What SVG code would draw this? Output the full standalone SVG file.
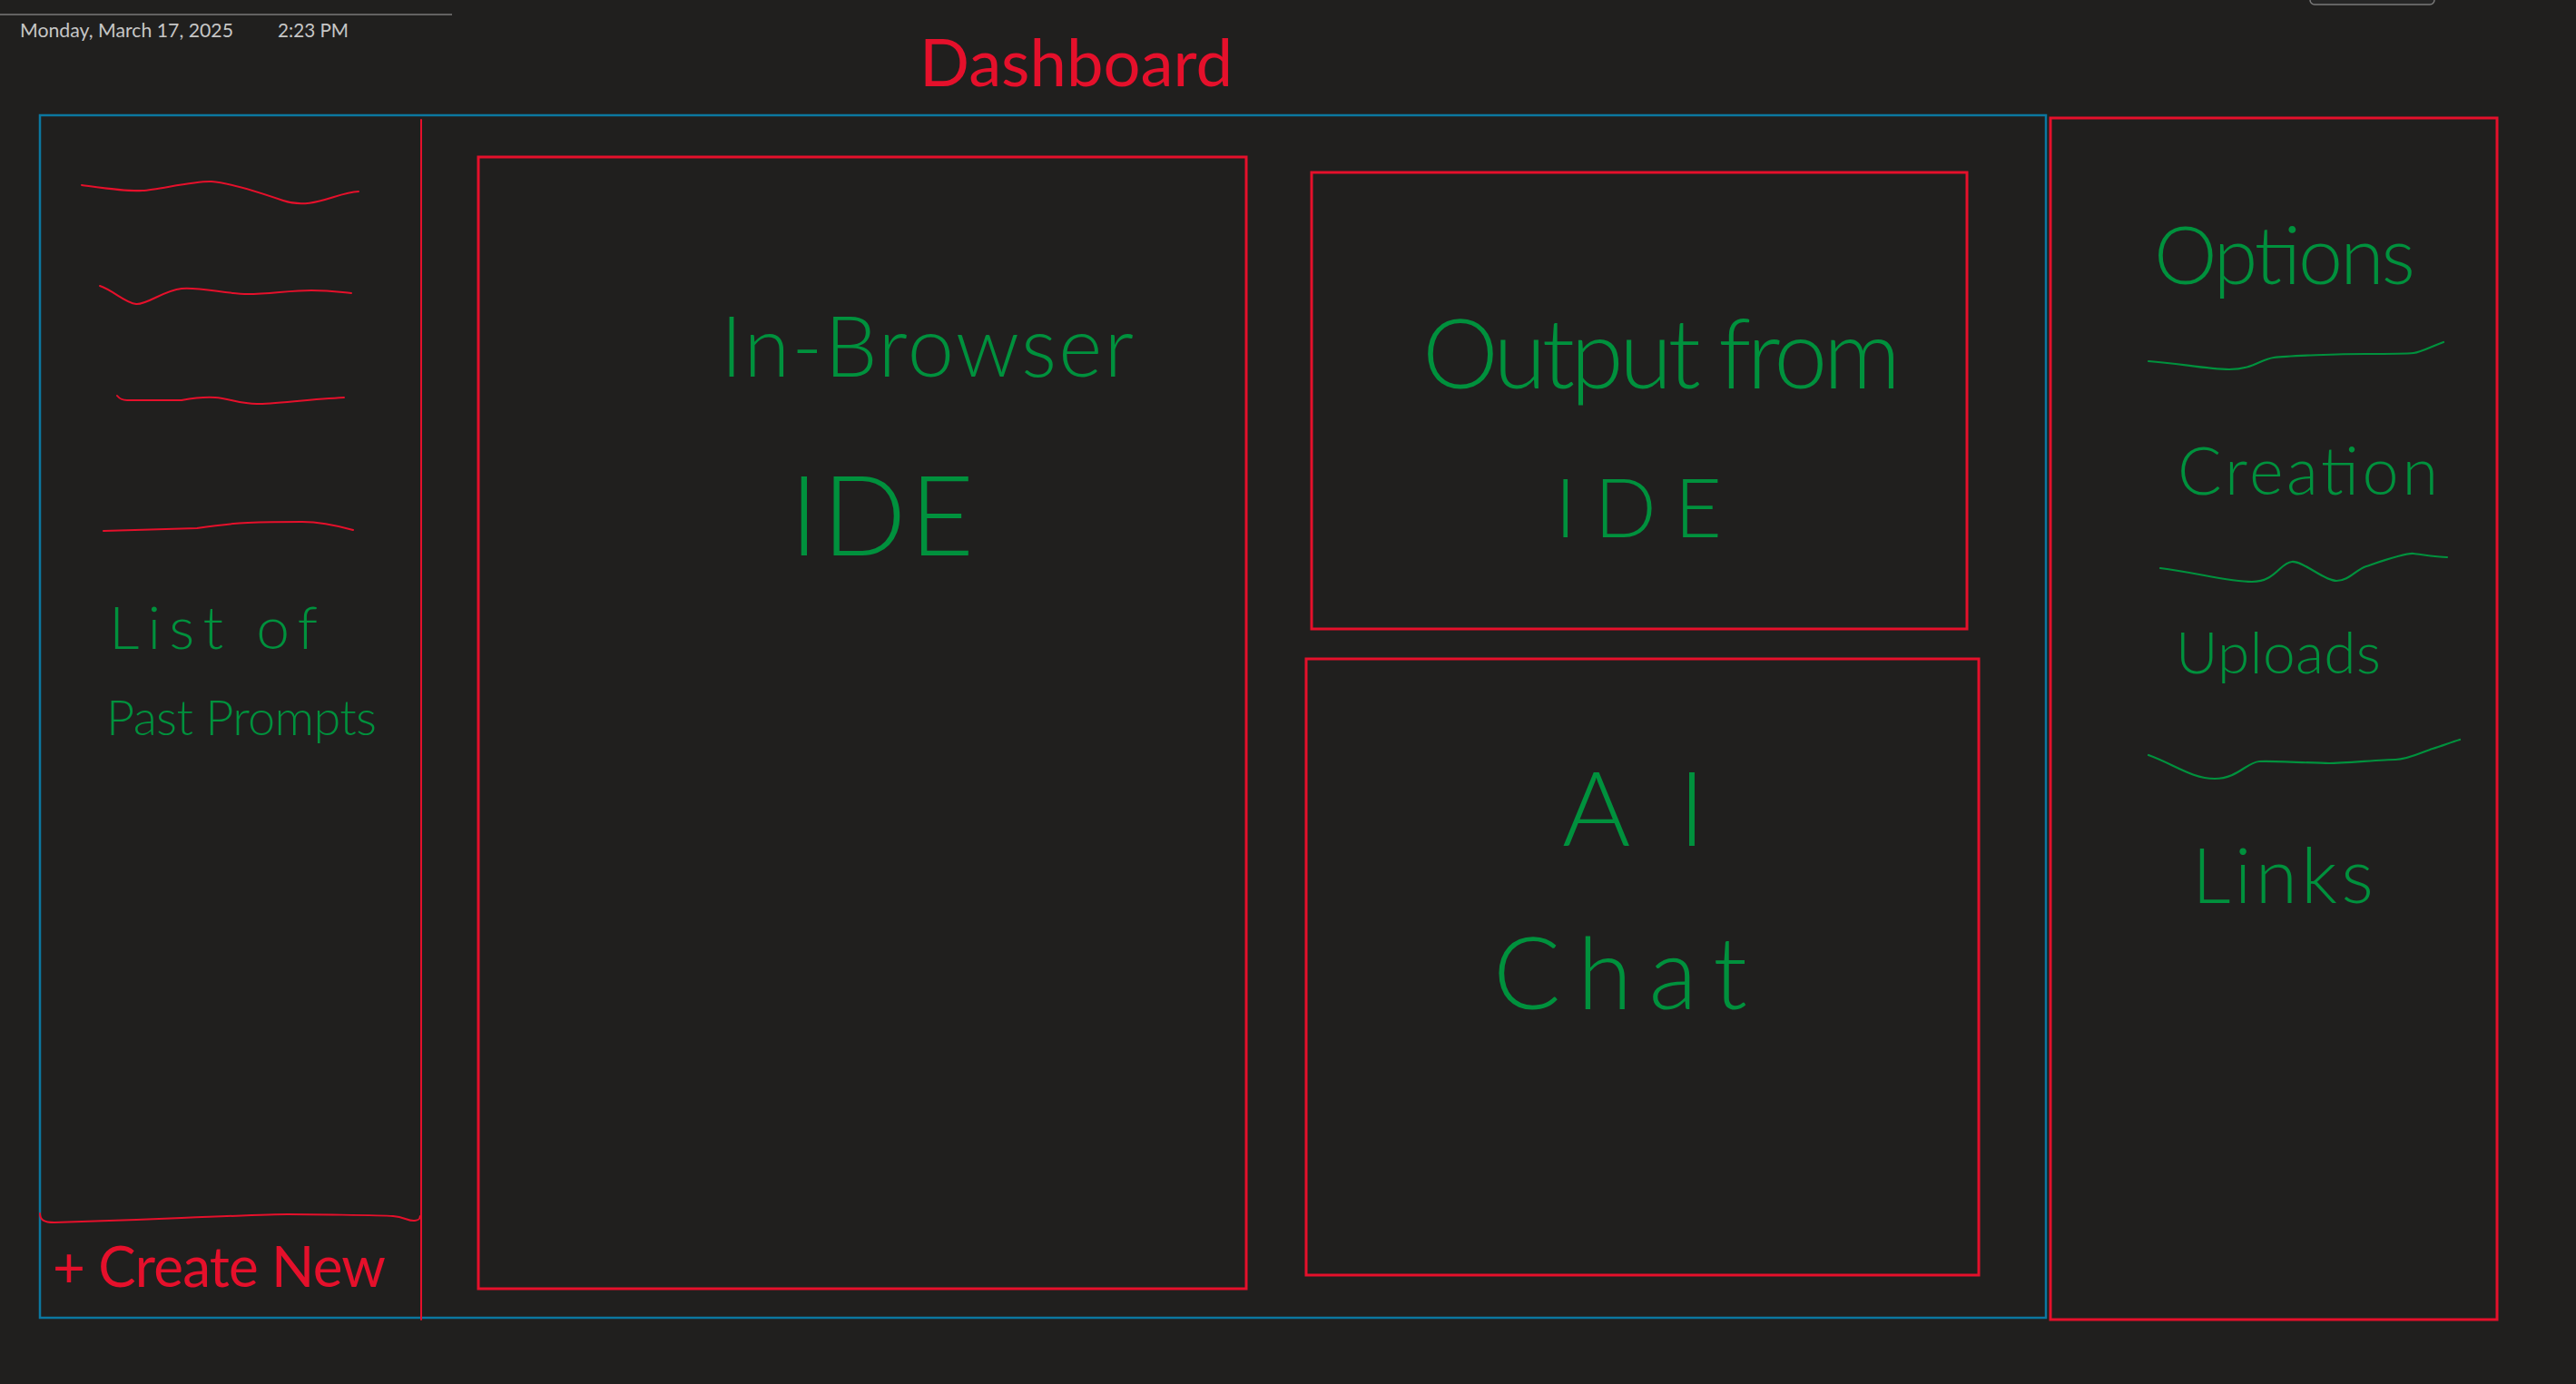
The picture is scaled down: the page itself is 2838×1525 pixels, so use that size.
<svg xmlns="http://www.w3.org/2000/svg" width="2838" height="1525" viewBox="0 0 2838 1525">
<style>
.bg{fill:#201f1e}
.blue{fill:none;stroke:#0b77a0;stroke-width:2.5}
.red{fill:none;stroke:#e5102b;stroke-width:3}
.redthin{fill:none;stroke:#e5102b;stroke-width:2;stroke-linecap:round}
.greenline{fill:none;stroke:#00913d;stroke-width:2.2;stroke-linecap:round}
.hand{font-family:Lato,"Open Sans","DejaVu Sans",sans-serif;font-weight:300;fill:#00913d}
.handred{font-family:Lato,"Open Sans","DejaVu Sans",sans-serif;font-weight:400;fill:#e5102b}
.meta{font-family:Lato,"Open Sans","Liberation Sans",sans-serif;font-size:21px;fill:#c6c6c6}
</style>
<rect class="bg" x="0" y="0" width="2838" height="1525"/>

<g id="page-header">
  <line x1="0" y1="16" x2="498" y2="16" stroke="#7a7a7a" stroke-width="1.5"/>
  <text class="meta" x="22" y="41" textLength="235" lengthAdjust="spacingAndGlyphs">Monday, March 17, 2025</text>
  <text class="meta" x="306" y="41" textLength="78" lengthAdjust="spacingAndGlyphs">2:23 PM</text>
  <rect x="2545" y="-20" width="137" height="25" rx="5" fill="#262626" stroke="#7a7a7a" stroke-width="1.5"/>
</g>

<g id="title">
  <text class="handred" x="1013" y="95" font-size="72" textLength="345" lengthAdjust="spacingAndGlyphs">Dashboard</text>
</g>

<g id="dashboard-frame">
  <rect class="blue" x="44" y="127" width="2210" height="1325"/>
</g>

<g id="sidebar">
  <line class="redthin" x1="464" y1="132" x2="464" y2="1454"/>
  <path class="redthin" d="M90 204 C120 208,140 211,157 210 S215 199,233 200 S280 210,312 221 S370 212,395 211"/>
  <path class="redthin" d="M110 315 C125 320,138 334,150 335 S180 320,200 318 S250 324,273 324 S320 320,343 320 S375 322,387 323"/>
  <path class="redthin" d="M129 436 Q133 441,140 441 L200 441 S222 437,237 438 S265 445,283 445 S340 440,379 438"/>
  <path class="redthin" d="M114 585 L217 582 S250 577,273 576 S320 575,333 575 S360 576,389 584"/>
  <text class="hand" x="120" y="715" font-size="66" textLength="230" lengthAdjust="spacing">List of</text>
  <text class="hand" x="117" y="810" font-size="54" textLength="298" lengthAdjust="spacing">Past Prompts</text>
  <path class="redthin" stroke-width="3" d="M44 1337 C44 1344,48 1347,60 1347 S150 1344,200 1342 S300 1338,317 1338 S420 1339,433 1340 S450 1346,457 1345 S462 1342,463 1340"/>
  <text class="handred" x="58" y="1418" font-size="62" textLength="367" lengthAdjust="spacing">+ Create New</text>
</g>

<g id="ide-panel">
  <rect class="red" x="527" y="173" width="846" height="1247"/>
  <text class="hand" x="794" y="415" font-size="92" textLength="455" lengthAdjust="spacing">In-Browser</text>
  <text class="hand" x="870" y="612" font-size="122" textLength="203" lengthAdjust="spacing">IDE</text>
</g>

<g id="output-panel">
  <rect class="red" x="1445" y="190" width="722" height="503"/>
  <text class="hand" x="1567" y="428" font-size="106" textLength="527" lengthAdjust="spacing">Output from</text>
  <text class="hand" x="1713" y="592" font-size="90" textLength="184" lengthAdjust="spacing">IDE</text>
</g>

<g id="ai-chat-panel">
  <rect class="red" x="1439" y="726" width="741" height="679"/>
  <text class="hand" x="1721" y="932" font-size="115" textLength="158" lengthAdjust="spacing">AI</text>
  <text class="hand" x="1645" y="1112" font-size="110" textLength="280" lengthAdjust="spacing">Chat</text>
</g>

<g id="options-panel">
  <rect class="red" x="2259" y="130" width="492" height="1324"/>
  <text class="hand" x="2373" y="313" font-size="88" textLength="288" lengthAdjust="spacing">Options</text>
  <path class="greenline" d="M2367 398 C2400 400,2430 407,2456 407 S2490 396,2505 394 S2580 390,2606 390 S2650 390,2659 389 S2680 381,2692 377"/>
  <text class="hand" x="2399" y="545" font-size="72" textLength="287" lengthAdjust="spacing">Creation</text>
  <path class="greenline" d="M2380 626 C2420 631,2455 641,2481 641 S2512 620,2525 619 S2560 640,2574 640 S2595 628,2607 624 S2650 609,2659 610 S2685 614,2696 614"/>
  <text class="hand" x="2397" y="742" font-size="64" textLength="226" lengthAdjust="spacing">Uploads</text>
  <path class="greenline" d="M2367 832 C2395 842,2415 858,2440 858 S2475 840,2489 839 S2550 841,2566 841 S2625 837,2639 837 S2670 828,2680 825 S2700 818,2710 815"/>
  <text class="hand" x="2415" y="995" font-size="84" textLength="200" lengthAdjust="spacing">Links</text>
</g>
</svg>
